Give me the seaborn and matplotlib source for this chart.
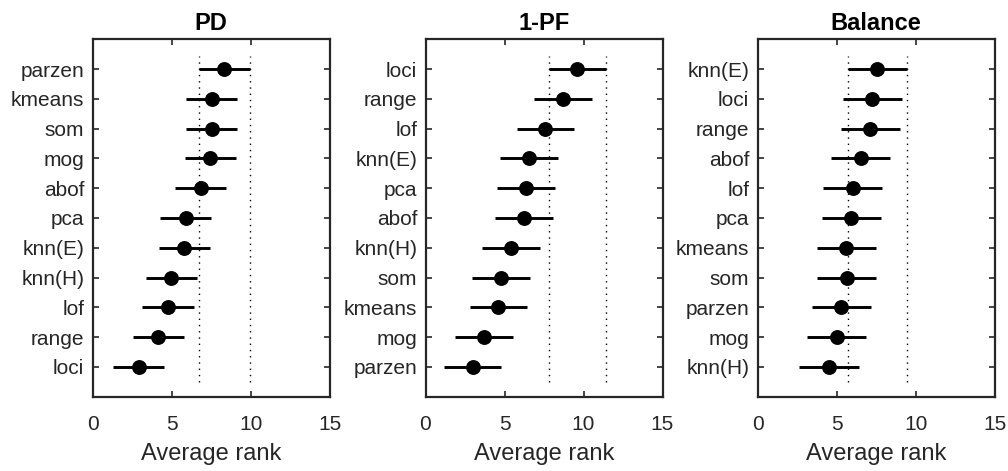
import matplotlib
matplotlib.use("Agg")
import matplotlib.pyplot as plt
import seaborn as sns
import pandas as pd
import numpy as np

sns.set_theme(style="white")
plt.rcParams['font.family'] = ['Liberation Sans', 'DejaVu Sans']

titles = ["PD", "1-PF", "Balance"]

pd_methods = ["parzen", "kmeans", "som", "mog", "abof", "pca", "knn(E)", "knn(H)", "lof", "range", "loci"]
pd_ranks = [8.34, 7.53, 7.52, 7.45, 6.83, 5.89, 5.79, 4.98, 4.77, 4.15, 2.92]

pf_methods = ["loci", "range", "lof", "knn(E)", "pca", "abof", "knn(H)", "som", "kmeans", "mog", "parzen"]
pf_ranks = [9.62, 8.70, 7.59, 6.57, 6.38, 6.23, 5.40, 4.79, 4.62, 3.70, 2.98]

bal_methods = ["knn(E)", "loci", "range", "abof", "lof", "pca", "kmeans", "som", "parzen", "mog", "knn(H)"]
bal_ranks = [7.57, 7.25, 7.13, 6.52, 6.01, 5.93, 5.61, 5.63, 5.29, 5.00, 4.51]

# half of the critical difference per panel
cd_half = [1.62, 1.83, 1.88]

x_ticks = [0, 5, 10, 15]

W, H = 1008, 471
fig = plt.figure(figsize=(W / 100, H / 100), dpi=100)

lefts = [92.7, 425.5, 757.7]
top_px, bot_px = 39.3, 396.7
width_px = 237

panels = [(pd_methods, pd_ranks), (pf_methods, pf_ranks), (bal_methods, bal_ranks)]

for i, ((methods, ranks), title) in enumerate(zip(panels, titles)):
    ax = fig.add_axes([lefts[i] / W, 1 - bot_px / H, width_px / W, (bot_px - top_px) / H])
    n = len(methods)
    ypos = np.arange(n, 0, -1)
    df = pd.DataFrame({"method": methods, "rank": ranks, "y": ypos})
    h = cd_half[i]
    ax.hlines(df["y"], df["rank"] - h, df["rank"] + h, color="black", lw=2.1, zorder=2)
    sns.scatterplot(data=df, x="rank", y="y", ax=ax, color="black", s=115,
                    edgecolor="black", linewidth=0, zorder=3, legend=False)
    # dotted lines at the extent of the top entry's interval
    top_rank = ranks[0]
    for xv in (top_rank - h, top_rank + h):
        ax.vlines(xv, 0.5, n + 0.45, colors="black", linestyles=(0, (1, 3.5)), lw=1.0, zorder=1)
    ax.set_xlim(0, 15)
    ax.set_ylim(0, n + 1)
    ax.set_xticks(x_ticks)
    ax.set_xticklabels([str(t) for t in x_ticks], fontsize=15, color="#262626")
    ax.set_yticks(ypos)
    ax.set_yticklabels(methods, fontsize=15, color="#262626")
    ax.set_xlabel("Average rank", fontsize=17, color="#262626", labelpad=7)
    ax.set_ylabel("")
    ax.set_title(title, fontsize=17, fontweight="bold", color="black", pad=7)
    ax.tick_params(axis="x", pad=13)
    ax.tick_params(axis="y", pad=6)
    ax.tick_params(direction="in", length=4, width=1.2, top=True, right=True,
                   bottom=True, left=True, color="#262626")
    for sp in ax.spines.values():
        sp.set_color("#262626")
        sp.set_linewidth(1.6)
    ax.grid(False)

fig.savefig("out.png", dpi=100)
